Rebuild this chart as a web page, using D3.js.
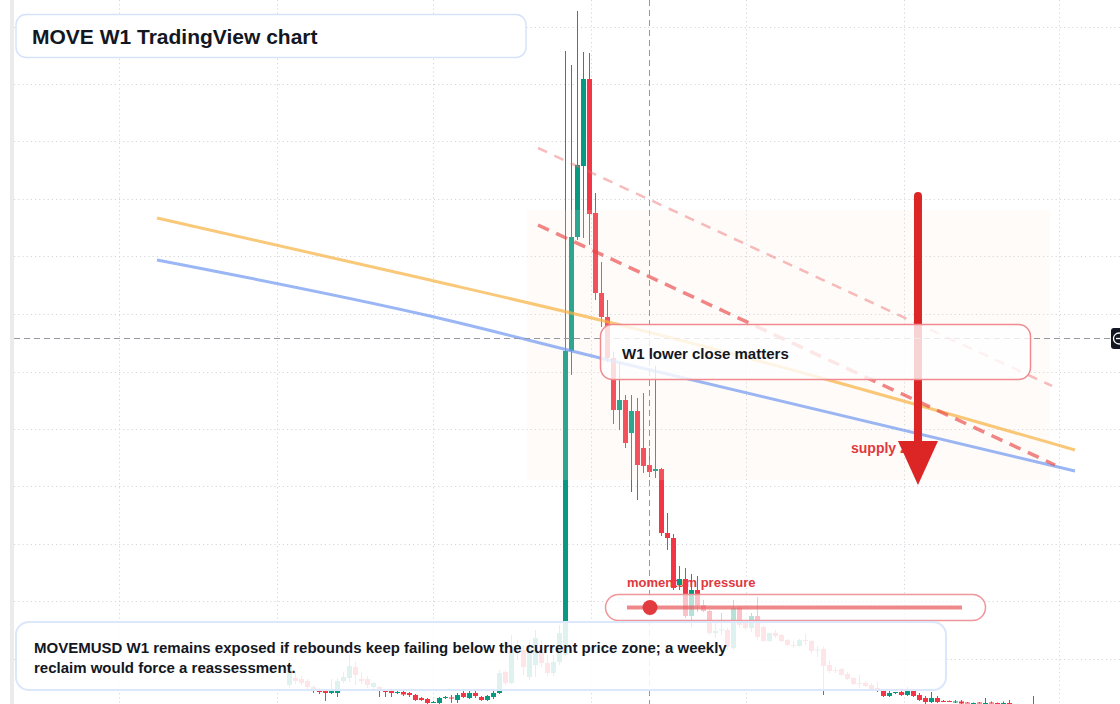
<!DOCTYPE html>
<html>
<head>
<meta charset="utf-8">
<script src="https://cdn.jsdelivr.net/npm/d3@7"></script>
<style>
  body { margin: 0; background: #fff; }
  svg { display: block; font-family: "Liberation Sans", Arial, sans-serif; }
</style>
</head>
<body>
<svg width="1120" height="704"></svg>
<script>
// weekly candles, first one on this monday
var firstWeek = "2024-01-15";

var candleOpen = [
    .0548, .0670, .0652, .0617, .0513, .0461, .0443, .0409, .0409, .0617,
    .0670, .0861, .0652, .0652, .0513, .0513, .0461, .0443, .0417, .0426,
    .0409, .0374, .0322, .0304, .0243, .0235, .0322, .0330, .0287, .0409,
    .0322, .0409, .0339, .0287, .0339, .0409, .0774, .0583, .1157, .1157,
    .0687, .0896, .1122, .0930, .0757, .0948, .1070, .6357, .8339, .9574,
    1.1087, .8757, .7365, .6948, .6235, .5330, .5504, .4930, .5313, .4670,
    .4374, .4270, .4304, .3191, .3104, .2287, .2391, .1748, .2200, .1939,
    .1835, .1452, .1496, .1504, .1191, .1887, .1626, .1539, .1748, .1557,
    .1313, .1452, .1417, .1330, .1243, .1226, .1330, .1313, .1148, .1174,
    .0896, .0809, .0826, .0739, .0670, .0583, .0583, .0548, .0496, .0461,
    .0357, .0417, .0426, .0374, .0443, .0374, .0322, .0252, .0322, .0270,
    .0270, .0252, .0261, .0243, .0226, .0243, .0226, .0243, .0235, .0226,
    .0235, .0209, .0200, .0191, .0183
];
var candleHigh = [
    .0983, .0774, .0704, .0652, .0548, .0496, .0461, .0652, .0670, .0774,
    .1070, .0948, .0774, .0704, .0600, .0530, .0478, .0461, .0461, .0443,
    .0426, .0391, .0339, .0322, .0270, .0339, .0357, .0374, .0409, .0443,
    .0443, .0443, .0357, .0374, .0443, .0809, .0809, .1417, .1330, .1243,
    .1330, .1504, .1330, .1070, .1070, .1591, 1.1574, 1.1330, 1.2270, 1.1557,
    1.1539, .9104, .7904, .7243, .6339, .6165, .5591, .5591, .5539, .5626,
    .4670, .6096, .4322, .3539, .3174, .2617, .2583, .2478, .2443, .2026,
    .1852, .1643, .1800, .1539, .2026, .1904, .1643, .1800, .2078, .1574,
    .1452, .1504, .1435, .1348, .1313, .1348, .1435, .1330, .1226, .1209,
    .0965, .0861, .0843, .0774, .0687, .0722, .0617, .0583, .0600, .0478,
    .0461, .0426, .0461, .0513, .0461, .0409, .0357, .0426, .0357, .0287,
    .0278, .0287, .0287, .0252, .0243, .0252, .0322, .0261, .0243, .0261,
    .0287, .0217, .0209, .0200, .0357
];
var candleLow = [
    .0496, .0565, .0548, .0461, .0409, .0391, .0270, .0391, .0339, .0583,
    .0600, .0548, .0565, .0496, .0461, .0339, .0339, .0339, .0391, .0357,
    .0339, .0270, .0270, .0217, .0235, .0217, .0304, .0235, .0235, .0322,
    .0304, .0322, .0270, .0270, .0304, .0391, .0548, .0565, .0983, .0722,
    .0635, .0687, .0861, .0704, .0704, .0896, .1040, .5939, .8287, .8322,
    .8200, .7243, .6774, .6165, .5087, .4983, .4670, .3904, .3765, .4235,
    .4165, .4148, .3139, .2896, .2200, .2200, .1713, .1557, .1817, .1817,
    .1417, .1365, .1417, .1157, .1157, .1539, .1504, .1470, .1330, .1296,
    .1296, .1365, .1296, .1226, .1191, .1209, .1243, .1104, .1035, .0374,
    .0757, .0757, .0704, .0635, .0548, .0496, .0513, .0461, .0426, .0339,
    .0339, .0391, .0357, .0357, .0339, .0270, .0217, .0235, .0235, .0252,
    .0252, .0235, .0217, .0235, .0217, .0226, .0217, .0226, .0217, .0217,
    .0217, .0183, .0183, .0165, .0165
];
var candleClose = [
    .0861, .0617, .0583, .0513, .0443, .0426, .0409, .0443, .0617, .0687,
    .0878, .0722, .0617, .0548, .0583, .0443, .0426, .0409, .0426, .0383,
    .0374, .0287, .0287, .0235, .0252, .0322, .0339, .0322, .0374, .0339,
    .0409, .0357, .0287, .0357, .0409, .0757, .0583, .1157, .1191, .0861,
    .1191, .1365, .0930, .0757, .0948, .1452, .6357, .8339, .9591, 1.1087,
    .8739, .7365, .6948, .6235, .5330, .5504, .4757, .5313, .4374, .4357,
    .4252, .4304, .3191, .3104, .2235, .2391, .1748, .2200, .1922, .1835,
    .1452, .1487, .1513, .1209, .1887, .1591, .1539, .1748, .1383, .1313,
    .1452, .1400, .1313, .1243, .1235, .1330, .1322, .1139, .1165, .0878,
    .0791, .0800, .0722, .0652, .0565, .0574, .0530, .0478, .0487, .0357,
    .0409, .0426, .0374, .0443, .0357, .0287, .0252, .0322, .0252, .0261,
    .0261, .0261, .0226, .0235, .0235, .0235, .0235, .0235, .0226, .0235,
    .0226, .0200, .0191, .0183, .0200
];

var priceTicks = [0.1, 0.2, 0.3, 0.4, 0.5, 0.6, 0.7, 0.8, 0.9, 1.0, 1.1, 1.2];

// drawings: [week offset from firstWeek, price]
var orangeLine = [[-22, .8670], [23.5, .7591], [51.83, .6896], [131, .4635]];
var blueLine = [[-22, .7939], [23.5, .6965], [51.83, .6235], [131, .4270]];
var upperTrend = [[41.5, .9887], [127.17, .5748]];
var lowerTrend = [[41.5, .8548], [127.67, .4374]];
var supplyZone = {from: 39.67, to: 126.83, low: .4113, high: .8809};
var arrowWeek = 104.83, arrowTop = .9052, arrowTip = .4026;
var crossWeek = 60, crossPrice = .6583;

var titleText = "MOVE W1 TradingView chart";
var noteText = "W1 lower close matters";
var momentumText = "momentum pressure";
var zoneText = "supply zone";
var summaryLines = [
    "MOVEMUSD W1 remains exposed if rebounds keep failing below the current price zone; a weekly",
    "reclaim would force a reassessment."
];

var upColor = "#089981";
var downColor = "#f23645";

var svg = d3.select("svg");
var width = +svg.attr("width");
var height = +svg.attr("height");

var start = d3.utcParse("%Y-%m-%d")(firstWeek);
function weekDate(w) { return new Date(start.getTime() + w * 7 * 864e5); }

var x = d3.scaleUtc()
    .domain([weekDate(46 - 565 / 6), weekDate(46 + 555 / 6)])
    .range([0, width]);
var y = d3.scaleLinear()
    .domain([0, 1.2])
    .range([716.5, 26.5]);

var candles = candleOpen.map(function(o, i) {
    return {date: weekDate(i), open: o, high: candleHigh[i], low: candleLow[i], close: candleClose[i]};
});

svg.append("rect").attr("width", width).attr("height", height).attr("fill", "#fff");
svg.append("rect").attr("x", 10).attr("width", 4).attr("height", height).attr("fill", "#ebebeb");

// GRID
var grid = svg.append("g")
    .attr("stroke", "#d3d6dc")
    .attr("stroke-dasharray", "1.2 3");
grid.selectAll(".h")
    .data(priceTicks)
    .enter()
    .append("line")
    .attr("x1", 14).attr("x2", width)
    .attr("y1", function(d) { return Math.round(y(d)) + 0.5; })
    .attr("y2", function(d) { return Math.round(y(d)) + 0.5; });
grid.selectAll(".v")
    .data(x.ticks(d3.utcMonth.every(6)))
    .enter()
    .append("line")
    .attr("y1", 0).attr("y2", height)
    .attr("x1", function(d) { return Math.round(x(d)) + 0.5; })
    .attr("x2", function(d) { return Math.round(x(d)) + 0.5; });

// label sits under the candles
svg.append("text")
    .attr("x", 627).attr("y", 587)
    .attr("font-size", 13).attr("font-weight", "bold")
    .attr("fill", "#e0393e")
    .text(momentumText);

// CANDLES
function cx(d) { return Math.round(x(d.date)); }
function color(d) { return d.close >= d.open ? upColor : downColor; }

svg.append("g").selectAll("line")
    .data(candles)
    .enter()
    .append("line")
    .attr("x1", function(d) { return cx(d) + 0.5; })
    .attr("x2", function(d) { return cx(d) + 0.5; })
    .attr("y1", function(d) { return y(d.high); })
    .attr("y2", function(d) { return y(d.low); })
    .attr("stroke", color);

svg.append("g").selectAll("rect")
    .data(candles)
    .enter()
    .append("rect")
    .attr("x", function(d) { return cx(d) - 2; })
    .attr("width", 5)
    .attr("y", function(d) { return y(Math.max(d.open, d.close)); })
    .attr("height", function(d) { return Math.max(1, Math.abs(y(d.open) - y(d.close))); })
    .attr("fill", color);

// SUPPLY ZONE
svg.append("rect")
    .attr("x", x(weekDate(supplyZone.from)))
    .attr("width", x(weekDate(supplyZone.to)) - x(weekDate(supplyZone.from)))
    .attr("y", y(supplyZone.high))
    .attr("height", y(supplyZone.low) - y(supplyZone.high))
    .attr("fill", "#f7e6da")
    .attr("fill-opacity", 0.16);

// MOVING LINES
var line = d3.line()
    .x(function(d) { return x(weekDate(d[0])); })
    .y(function(d) { return y(d[1]); })
    .curve(d3.curveMonotoneX);

svg.append("path").attr("d", line(orangeLine))
    .attr("fill", "none").attr("stroke", "#f6b03e").attr("stroke-opacity", 0.7).attr("stroke-width", 3);
svg.append("path").attr("d", line(blueLine))
    .attr("fill", "none").attr("stroke", "#6f97f0").attr("stroke-opacity", 0.7).attr("stroke-width", 3);
svg.append("path").attr("d", line(upperTrend))
    .attr("fill", "none").attr("stroke", "#ee6b6b").attr("stroke-opacity", 0.45)
    .attr("stroke-width", 2.5).attr("stroke-dasharray", "10 8");
svg.append("path").attr("d", line(lowerTrend))
    .attr("fill", "none").attr("stroke", "#e84545").attr("stroke-opacity", 0.65)
    .attr("stroke-width", 3.5).attr("stroke-dasharray", "12 8");

// ARROW
svg.append("text")
    .attr("x", 851).attr("y", 453)
    .attr("font-size", 14).attr("font-weight", "bold")
    .attr("fill", "#e0393e")
    .text(zoneText);

var ax = x(weekDate(arrowWeek));
var headBase = y(arrowTip) - 44;
svg.append("line")
    .attr("x1", ax).attr("x2", ax)
    .attr("y1", y(arrowTop)).attr("y2", headBase + 4)
    .attr("stroke", "#dc2626").attr("stroke-width", 8).attr("stroke-linecap", "round");
svg.append("path")
    .attr("d", "M" + (ax - 20) + "," + headBase + "L" + (ax + 20) + "," + headBase + "L" + ax + "," + y(arrowTip) + "Z")
    .attr("fill", "#dc2626");

// CROSSHAIR
var crossX = Math.round(x(weekDate(crossWeek))) + 0.5;
var crossY = Math.round(y(crossPrice)) + 0.5;
svg.append("line")
    .attr("x1", crossX).attr("x2", crossX).attr("y1", 0).attr("y2", height)
    .attr("stroke", "#9598a1").attr("stroke-dasharray", "6 4");
svg.append("line")
    .attr("x1", 14).attr("x2", 1111).attr("y1", crossY).attr("y2", crossY)
    .attr("stroke", "#9598a1").attr("stroke-dasharray", "6 4");

// BOXES
svg.append("rect")
    .attr("x", 600.5).attr("y", 324.5).attr("width", 430).attr("height", 55).attr("rx", 12)
    .attr("fill", "#fff").attr("fill-opacity", 0.8)
    .attr("stroke", "#f08a90").attr("stroke-width", 1.5);
svg.append("text")
    .attr("x", 622).attr("y", 359)
    .attr("font-size", 15).attr("font-weight", "bold")
    .attr("fill", "#131722")
    .text(noteText);

svg.append("rect")
    .attr("x", 605.5).attr("y", 594.5).attr("width", 380).attr("height", 26).attr("rx", 13)
    .attr("fill", "#fff").attr("fill-opacity", 0.7)
    .attr("stroke", "#f0959a").attr("stroke-width", 1.5);
svg.append("line")
    .attr("x1", 627).attr("x2", 962).attr("y1", 607.5).attr("y2", 607.5)
    .attr("stroke", "#e8555a").attr("stroke-opacity", 0.7).attr("stroke-width", 4);
svg.append("circle")
    .attr("cx", 650).attr("cy", 607.5).attr("r", 7.5)
    .attr("fill", "#e23b3f");

svg.append("rect")
    .attr("x", 16).attr("y", 622).attr("width", 930).attr("height", 68).attr("rx", 13)
    .attr("fill", "#fff").attr("fill-opacity", 0.87)
    .attr("stroke", "#dbe7fb").attr("stroke-width", 2);
svg.append("g").selectAll("text")
    .data(summaryLines)
    .enter()
    .append("text")
    .attr("x", 34)
    .attr("y", function(d, i) { return 653 + i * 20; })
    .attr("font-size", 15).attr("font-weight", "bold")
    .attr("fill", "#131722")
    .text(function(d) { return d; });

svg.append("rect")
    .attr("x", 16).attr("y", 14.5).attr("width", 510).attr("height", 43).attr("rx", 10)
    .attr("fill", "#fff").attr("fill-opacity", 0.92)
    .attr("stroke", "#d6e3fa").attr("stroke-width", 1.5);
svg.append("text")
    .attr("x", 32).attr("y", 43.5)
    .attr("font-size", 21).attr("font-weight", "bold")
    .attr("fill", "#131722")
    .text(titleText);

// PRICE LABEL STUB ON THE RIGHT EDGE
svg.append("rect")
    .attr("x", 1111).attr("y", crossY - 10.5).attr("width", 20).attr("height", 21).attr("rx", 3)
    .attr("fill", "#131722");
svg.append("circle")
    .attr("cx", 1119).attr("cy", crossY).attr("r", 5.5)
    .attr("fill", "none").attr("stroke", "#fff").attr("stroke-width", 1.3);
svg.append("line")
    .attr("x1", 1116).attr("x2", 1122).attr("y1", crossY).attr("y2", crossY)
    .attr("stroke", "#fff").attr("stroke-width", 1.3);
</script>
</body>
</html>
